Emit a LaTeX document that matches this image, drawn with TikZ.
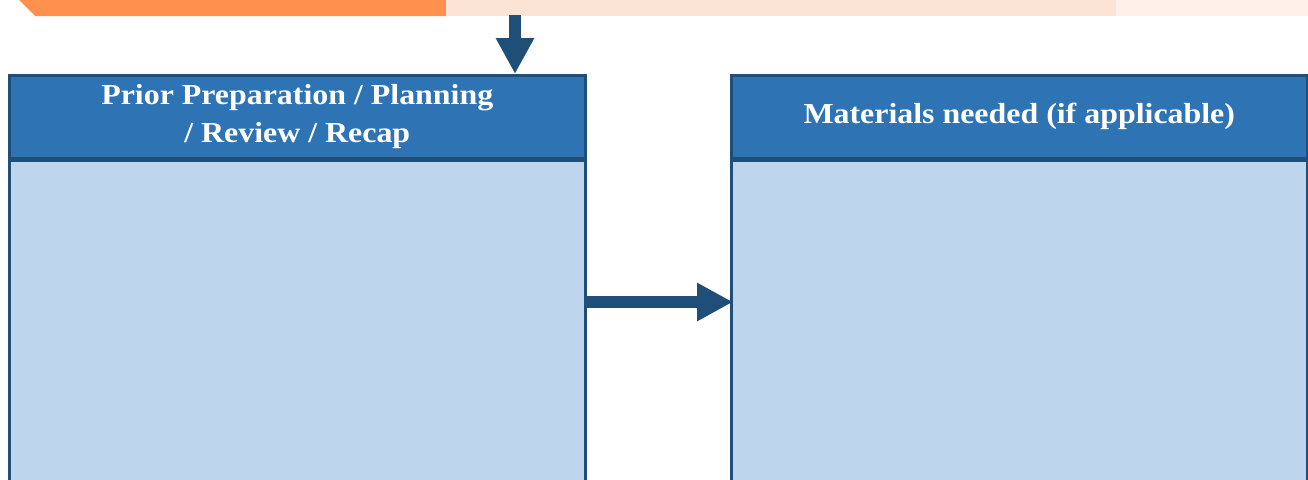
\documentclass[tikz,border=0pt]{standalone}
\usepackage{fontspec}
\setmainfont{Liberation Serif}[BoldFeatures={FakeStretch=1.1}]
\usetikzlibrary{arrows.meta}
\definecolor{hdr}{HTML}{2E74B5}
\definecolor{edgec}{HTML}{1F4E79}
\definecolor{bodyc}{HTML}{BDD6EE}
\definecolor{orng}{HTML}{FF914D}
\definecolor{peach}{HTML}{FBE4D5}
\definecolor{peachl}{HTML}{FDF1EA}
\begin{document}
\begin{tikzpicture}[x=1pt,y=-1pt,
  hdrbox/.style={draw=edgec, line width=2.5pt, fill=hdr, text=white,
    minimum width=576pt, minimum height=83pt, inner sep=0pt, align=center,
    font=\bfseries\fontsize{29}{39}\selectfont},
  bodybox/.style={draw=edgec, line width=2.5pt, fill=bodyc,
    minimum width=576pt, minimum height=330pt, inner sep=0pt},
  conn/.style={draw=edgec, line width=12pt,
    -{Triangle[length=36pt,width=36pt]}}]
\useasboundingbox (0,0) rectangle (1308,479);
\clip (0,0) rectangle (1308,479);
% top band
\fill[orng] (19,0) -- (446,0) -- (446,16) -- (35,16) -- cycle;
\fill[peach] (446,0) rectangle (1116,16);
\fill[peachl] (1116,0) rectangle (1308,16);
% boxes
\node[hdrbox, anchor=north west] (lhead) at (8,74) {Prior Preparation / Planning\\[-1pt] / Review / Recap};
\node[bodybox, anchor=north] (lbody) at (lhead.south) {};
\node[hdrbox, anchor=north west] (rhead) at (730,74) {Materials needed (if applicable)};
\node[bodybox, anchor=north] (rbody) at (rhead.south) {};
% connectors
\coordinate (src) at (515,15);
\coordinate (mid) at (0,302);
\draw[conn] (src) -- (src |- lhead.north);
\draw[conn] ([xshift=-3pt]lbody.east |- mid) -- ([xshift=3pt]rbody.west |- mid);
\end{tikzpicture}
\end{document}
